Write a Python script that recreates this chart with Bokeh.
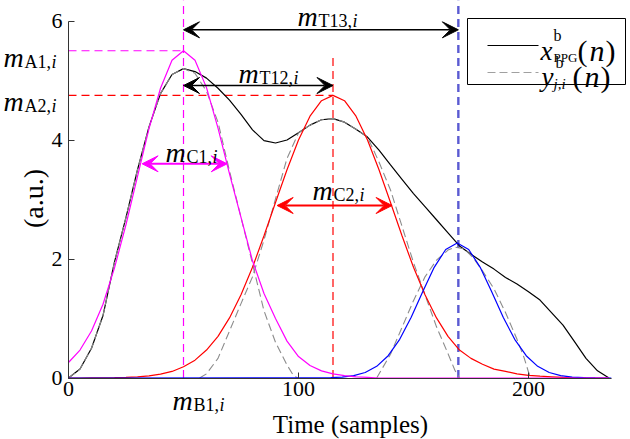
import math
from bokeh.plotting import figure
from bokeh.models import Label, Arrow, VeeHead, FixedTicker, Range1d
from bokeh.embed import file_html
from bokeh.resources import INLINE

# ---------------- data ----------------
x_ppg = list(range(0, 240, 5))
ppg = [0.0, 0.15, 0.5, 1.05, 1.95, 2.7, 3.5, 4.22, 4.78, 5.1,
       5.2, 5.15, 5.04, 4.87, 4.67, 4.43, 4.17, 3.99, 3.95, 4.0,
       4.12, 4.25, 4.34, 4.36, 4.30, 4.18, 4.05, 3.83, 3.58, 3.34,
       3.10, 2.88, 2.66, 2.44, 2.22, 2.08, 1.95, 1.83, 1.69, 1.58,
       1.45, 1.31, 1.10, 0.89, 0.61, 0.33, 0.12, 0.0]

x_c1 = list(range(0, 240, 5))
c1 = [0.26, 0.47, 0.79, 1.24, 1.85, 2.58, 3.39, 4.19, 4.87, 5.34,
      5.5, 5.34, 4.88, 4.2, 3.43, 2.7, 1.97, 1.42, 1.0, 0.62,
      0.36, 0.21, 0.12, 0.07, 0.04, 0.02, 0.01, 0, 0, 0,
      0, 0, 0, 0, 0, 0, 0, 0, 0, 0,
      0, 0, 0, 0, 0, 0, 0, 0]

x_c2 = list(range(0, 240, 5))
c2 = [0, 0, 0.001, 0.002, 0.005, 0.01, 0.02, 0.036, 0.065, 0.11,
      0.19, 0.30, 0.47, 0.70, 1.01, 1.40, 1.86, 2.39, 2.95, 3.50,
      4.00, 4.40, 4.66, 4.75, 4.66, 4.40, 4.00, 3.50, 2.95, 2.39,
      1.86, 1.40, 1.01, 0.70, 0.47, 0.33, 0.23, 0.15, 0.11, 0.07,
      0.045, 0.03, 0.02, 0.01, 0.005, 0.002, 0, 0]

x_c3 = [0, 109, 114, 119, 124, 129, 134, 139, 144, 149, 154, 159, 164, 169,
        174, 179, 184, 189, 194, 199, 204, 209, 214, 219, 224, 229, 236]
c3 = [0, 0.002, 0.005, 0.015, 0.040, 0.093, 0.196, 0.375, 0.65, 1.02, 1.45, 1.86, 2.16, 2.27,
      2.16, 1.86, 1.45, 1.02, 0.65, 0.375, 0.196, 0.093, 0.040, 0.015, 0.005, 0.002, 0]

x_y1 = [0, 5, 10, 15, 20, 25, 30, 35, 40, 45, 50, 55, 60, 65, 70, 75, 80, 85, 90, 95, 98, 100]
y1 = [0, 0.15, 0.5, 1.05, 1.95, 2.7, 3.5, 4.22, 4.78, 5.1,
      5.2, 5.12, 4.82, 4.3, 3.48, 2.7, 1.92, 1.13, 0.6, 0.22, 0.03, 0]

x_y2 = [57, 60, 65, 70, 75, 80, 85, 90, 95, 100, 105, 110, 115, 120, 125, 130,
        135, 140, 145, 150, 155, 160, 165, 168, 170]
y2 = [0, 0.07, 0.33, 0.79, 1.25, 1.70, 2.32, 3.01, 3.69, 4.12, 4.25, 4.34, 4.36, 4.30, 4.18, 4.05,
      3.63, 3.16, 2.55, 1.94, 1.40, 0.86, 0.41, 0.13, 0]

x_y3 = [134, 140, 145, 150, 155, 160, 165, 168, 172, 176, 180, 185, 190, 195, 198, 200, 201]
y3 = [0, 0.4, 0.85, 1.3, 1.7, 1.98, 2.15, 2.2, 2.17, 2.02, 1.8, 1.5, 1.1, 0.65, 0.35, 0.1, 0]

# feature values
m_B = [50, 115, 169.5]          # peak positions
m_A = [5.5, 4.75, 2.27]         # peak amplitudes
m_C1 = (32, 69)                 # width arrow of component 1
m_C2 = (90.7, 140.7)            # width arrow of component 2

x_ticks = [0, 100, 200]
y_ticks = [0, 2, 4, 6]

FONT = "Liberation Serif"
MAG = "#ff00ff"
RED = "#ff0000"
BLUE = "#0000ff"
BLUED = "#5a5ad2"
GRAY = "#8c8c8c"


def X(px):
    return (px - 68) / 2.3


def Y(py):
    return (377.5 - py) / 59.5


# ---------------- figure ----------------
p = figure(width=630, height=439, output_backend="svg", toolbar_location=None,
           x_range=Range1d(X(0), X(630)), y_range=Range1d(Y(439), Y(0)),
           min_border_left=0, min_border_right=0, min_border_top=0, min_border_bottom=0)
p.xgrid.visible = False
p.ygrid.visible = False
p.outline_line_color = None
p.background_fill_color = "white"
p.border_fill_color = "white"

for ax in (p.xaxis[0], p.yaxis[0]):
    ax.fixed_location = 0
    ax.major_tick_in = 6
    ax.major_tick_out = 0
    ax.minor_tick_line_color = None
    ax.major_tick_line_color = "#333333"
    ax.axis_line_color = "#333333"
    ax.major_label_text_font = FONT
    ax.major_label_text_font_size = "22px"
    ax.major_label_text_color = "black"
p.xaxis.ticker = FixedTicker(ticks=x_ticks)
p.yaxis.ticker = FixedTicker(ticks=y_ticks)
p.xaxis.bounds = (0, 236)
p.yaxis.bounds = (0, 6)
p.xaxis.major_label_standoff = 4
p.yaxis.major_label_standoff = 6


def lab(text, px, py, size, italic=False, color="black", align="left",
        baseline="alphabetic", angle=0.0):
    p.add_layout(Label(x=X(px), y=Y(py), text=text, text_font=FONT,
                       text_font_size=f"{size}px",
                       text_font_style="italic" if italic else "normal",
                       text_color=color, text_align=align,
                       text_baseline=baseline, angle=angle))


def mlab(px, py, sub, subw):
    lab("m", px, py, 28, italic=True)
    lab(sub, px + 21, py + 4, 18)
    lab("i", px + 21 + subw, py + 4, 18, italic=True)


# reference lines
p.segment(x0=[m_B[0]], y0=[0], x1=[m_B[0]], y1=[Y(0)], line_color=MAG,
          line_dash="8 5", line_width=1.2)
p.segment(x0=[m_B[2]], y0=[0], x1=[m_B[2]], y1=[Y(0)], line_color=BLUED,
          line_dash="8 5", line_width=2.4)
p.segment(x0=[m_B[1]], y0=[0], x1=[m_B[1]], y1=[5.43], line_color=RED,
          line_dash="8 5", line_width=1.2)
p.segment(x0=[0], y0=[m_A[0]], x1=[m_B[0]], y1=[m_A[0]], line_color=MAG,
          line_dash="8 5", line_width=1.2)
p.segment(x0=[0], y0=[m_A[1]], x1=[m_B[1]], y1=[m_A[1]], line_color=RED,
          line_dash="8 5", line_width=1.2)

# curves
p.line(x_ppg, ppg, line_color="black", line_width=1.2)
p.line(x_y1, y1, line_color=GRAY, line_width=1.1, line_dash="8 4")
p.line(x_y2, y2, line_color=GRAY, line_width=1.1, line_dash="8 4")
p.line(x_y3, y3, line_color=GRAY, line_width=1.1, line_dash="8 4")
p.line(x_c2, c2, line_color=RED, line_width=1.2)
p.line(x_c3, c3, line_color=BLUE, line_width=1.2)
p.line(x_c1, c1, line_color=MAG, line_width=1.2)


def darrow(x0, x1, y, color, lw):
    p.add_layout(Arrow(start=VeeHead(size=16, fill_color=color, line_color=color),
                       end=VeeHead(size=16, fill_color=color, line_color=color),
                       x_start=x0, y_start=y, x_end=x1, y_end=y,
                       line_color=color, line_width=lw))


darrow(m_B[0], m_B[2], Y(29.3), "black", 1.5)
darrow(m_B[0], m_B[1], Y(85), "black", 1.5)
darrow(m_C1[0], m_C1[1], Y(163.3), MAG, 2.0)
darrow(m_C2[0], m_C2[1], Y(205), RED, 2.0)

# math labels
mlab(297, 16, "T13,", 34)
mlab(238, 73, "T12,", 34)
mlab(165, 152, "C1,", 26)
mlab(312, 190, "C2,", 26)
mlab(3, 57, "A1,", 27)
mlab(3, 101, "A2,", 27)
mlab(172, 400, "B1,", 26)

# axis labels
lab("Time (samples)", 350, 424, 25, align="center")
lab("(a.u.)", 33, 198, 28, align="center", baseline="middle", angle=math.pi / 2)

# legend
p.quad(left=[X(467)], right=[X(625)], top=[Y(18)], bottom=[Y(84)],
       fill_color="white", line_color="black", line_width=1)
p.line([X(487), X(538)], [Y(45), Y(45)], line_color="black", line_width=1.2)
p.line([X(487), X(538)], [Y(72), Y(72)], line_color="#a0a0a0", line_width=1.2,
       line_dash="8 4")
lab("x", 540, 50, 27, italic=True)
lab("b", 553, 35, 16)
lab("PPG", 553, 57, 13)
lab("(", 577, 50, 30)
lab("n", 589, 50, 30, italic=True)
lab(")", 605, 50, 30)
lab("y", 541, 76, 27, italic=True)
lab("b", 555, 62, 16)
lab("j,i", 553, 83, 15, italic=True)
lab("(", 572, 76, 30)
lab("n", 584, 76, 30, italic=True)
lab(")", 600, 76, 30)

open("out.html", "w").write(file_html(p, INLINE))
